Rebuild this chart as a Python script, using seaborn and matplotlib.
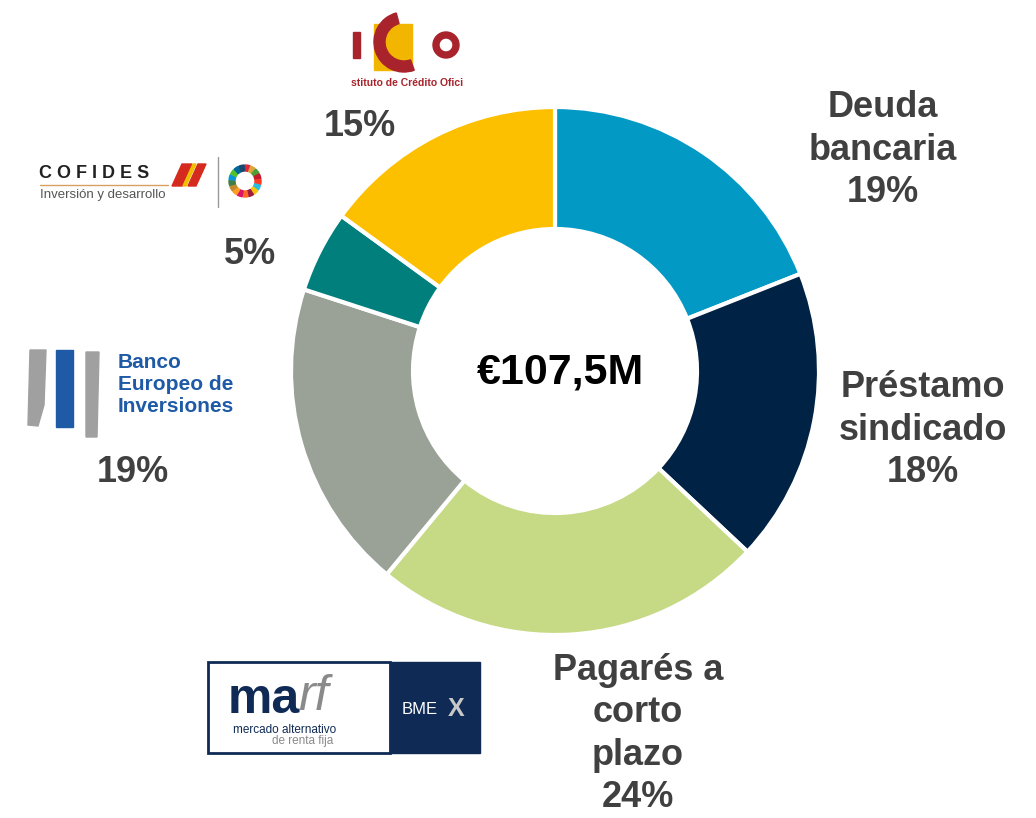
import matplotlib
matplotlib.use("Agg")
import matplotlib.pyplot as plt
import seaborn as sns
from matplotlib.patches import Wedge, Rectangle, Polygon

# data
fuentes = ["Deuda bancaria", "Préstamo sindicado", "Pagarés a corto plazo", "BEI", "COFIDES", "ICO"]
pct = [19, 18, 24, 19, 5, 15]
etiquetas = ["Deuda\nbancaria\n19%", "Préstamo\nsindicado\n18%", "Pagarés a\ncorto\nplazo\n24%", "19%", "5%", "15%"]
total = "€107,5M"
colores = ["#0399C5", "#002244", "#C6D985", "#9AA297", "#007F7D", "#FDC000"]
sdg = ["#E5243B", "#DDA63A", "#4C9F38", "#C5192D", "#FF3A21", "#26BDE2", "#FCC30B", "#A21942",
       "#FD6925", "#DD1367", "#FD9D24", "#BF8B2E", "#3F7E44", "#0A97D9", "#56C02B", "#00689D", "#19486A"]

sns.set_theme(style="white")
plt.rcParams["font.family"] = ["Liberation Sans", "DejaVu Sans"]

W, H = 1036, 818
fig = plt.figure(figsize=(W / 100, H / 100), dpi=100)
ax = fig.add_axes([0, 0, 1, 1])

def Y(y):
    return H - y

# donut
cx, cy, r = 555, Y(371), 264
ax.pie(pct, colors=colores, startangle=90, counterclock=False, center=(cx, cy), radius=r,
       wedgeprops=dict(width=122, edgecolor="white", linewidth=3), frame=True)
ax.set_xlim(0, W)
ax.set_ylim(0, H)
ax.set_aspect("equal")
ax.axis("off")

ax.text(560, Y(373), total, ha="center", va="center", fontsize=31, fontweight="bold", color="black")

gris = "#404040"
pos = [(883, 150), (923, 430), (638, 734), (133, 472), (250, 254), (360, 127)]
for (x, y), t in zip(pos, etiquetas):
    ax.text(x, Y(y), t, ha="center", va="center", fontsize=26, fontweight="bold",
            color=gris, linespacing=1.26)

# ICO logo
rojo = "#A8232B"
ax.add_patch(Rectangle((374, Y(70)), 38, 46, color="#F2B500"))
ax.add_patch(Rectangle((353, Y(58)), 7, 26, color=rojo))
ax.add_patch(Wedge((404, Y(42)), 30, 105, 290, width=11, color=rojo))
ax.add_patch(Wedge((446, Y(45)), 13, 0, 360, width=6, color=rojo))
ax.text(407, Y(83), "stituto de Crédito Ofici", ha="center", va="center", fontsize=7.5,
        fontweight="bold", color=rojo)

# COFIDES logo
ax.text(39, Y(173), "C O F I D E S", ha="left", va="center", fontsize=13, fontweight="heavy", color="#222222")
ax.plot([40, 168], [Y(185), Y(185)], color="#D8A060", lw=1)
ax.add_patch(Polygon([(172, Y(186)), (182, Y(164)), (192, Y(164)), (182, Y(186))], color="#D52B1E"))
ax.add_patch(Polygon([(183, Y(186)), (193, Y(164)), (196, Y(164)), (186, Y(186))], color="#F1BF00"))
ax.add_patch(Polygon([(188, Y(186)), (198, Y(164)), (206, Y(164)), (196, Y(186))], color="#D52B1E"))
ax.text(40, Y(195), "Inversión y desarrollo", ha="left", va="center", fontsize=9.5, color="#555555")
ax.plot([218, 218], [Y(157), Y(207)], color="#999999", lw=1)
n = len(sdg)
for i, c in enumerate(sdg):
    a1 = 90 - i * 360 / n
    ax.add_patch(Wedge((245, Y(181)), 16, a1 - 360 / n + 3, a1, width=6, color=c))

# BEI logo
ax.add_patch(Polygon([(30, Y(350)), (46, Y(350)), (44, Y(405)), (38, Y(426)), (28, Y(425))], color="#A0A0A0"))
ax.add_patch(Rectangle((56, Y(427)), 17, 77, color="#1F5AA6"))
ax.add_patch(Polygon([(86, Y(352)), (99, Y(352)), (97, Y(437)), (86, Y(437))], color="#A0A0A0"))
ax.text(118, Y(385), "Banco\nEuropeo de\nInversiones", ha="left", va="center", fontsize=15,
        fontweight="bold", color="#1F5AA6", linespacing=1.2)

# MARF logo
navy = "#0F2A55"
ax.add_patch(Rectangle((208, Y(753)), 182, 91, facecolor="white", edgecolor=navy, lw=2))
ax.add_patch(Rectangle((390, Y(753)), 90, 91, color=navy))
ax.text(228, Y(700), "ma", ha="left", va="center", fontsize=36, fontweight="bold", color=navy)
ax.text(298, Y(697), "rf", ha="left", va="center", fontsize=36, color="#8A8A8A", style="italic")
ax.text(233, Y(730), "mercado alternativo", ha="left", va="center", fontsize=8.5, color=navy)
ax.text(272, Y(741), "de renta fija", ha="left", va="center", fontsize=8.5, color="#8A8A8A")
ax.text(402, Y(709), "BME", ha="left", va="center", fontsize=12, color="white")
ax.text(448, Y(709), "X", ha="left", va="center", fontsize=18, fontweight="bold", color="#C8C8C8")

fig.savefig("out.png", dpi=100)
